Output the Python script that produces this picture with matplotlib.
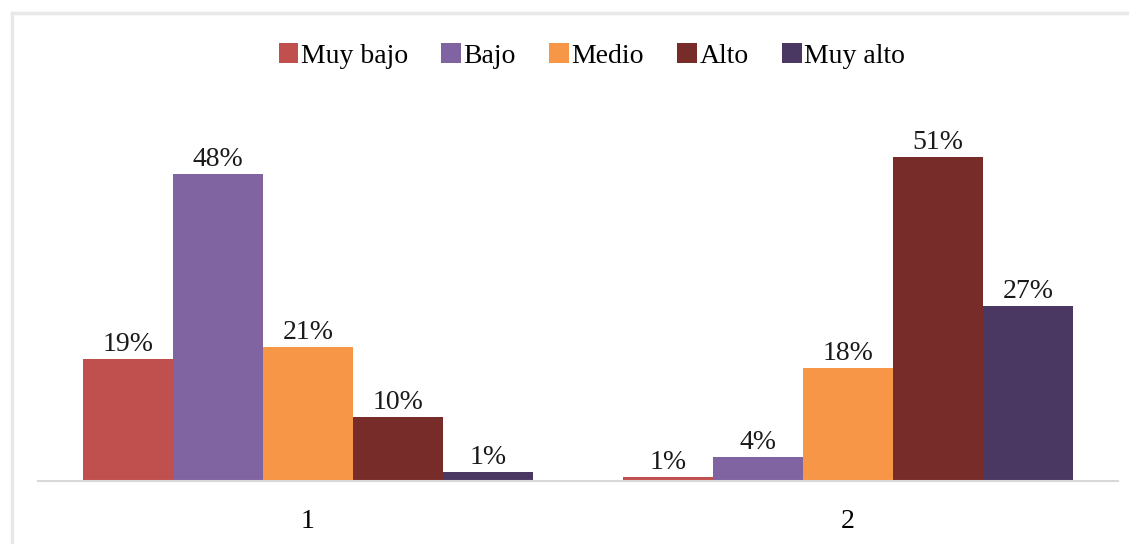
import numpy as np
import matplotlib.pyplot as plt
from matplotlib.lines import Line2D

grupos = ['1', '2']
series = ['Muy bajo', 'Bajo', 'Medio', 'Alto', 'Muy alto']
valores = {
    'Muy bajo': [19, 0.6],
    'Bajo': [48, 3.7],
    'Medio': [21, 17.6],
    'Alto': [10, 50.7],
    'Muy alto': [1.4, 27.3],
}
colores = ['#C0504D', '#8064A2', '#F79646', '#772C2A', '#4B3862']

plt.rcParams['font.family'] = ['Liberation Serif', 'DejaVu Serif']

W, H = 1129, 544
fig = plt.figure(figsize=(W / 100, H / 100), dpi=100)

# marco gris claro (solo visible arriba e izquierda)
borde = dict(transform=fig.transFigure, color='#E8E8E8', lw=2.5)
fig.lines.append(Line2D([12 / W, 12 / W], [0, 1 - 13 / H], **borde))
fig.lines.append(Line2D([12 / W, 1], [1 - 13 / H, 1 - 13 / H], **borde))

ax = fig.add_axes([38 / W, (H - 481) / H, (1118 - 38) / W, 384 / H])

x = np.arange(len(grupos))
ancho = 0.1667
for i, (s, c) in enumerate(zip(series, colores)):
    pos = x + (i - 2) * ancho
    barras = ax.bar(pos, valores[s], ancho, color=c, label=s)
    for b, v in zip(barras, valores[s]):
        ax.text(b.get_x() + b.get_width() / 2, v + 0.3, f'{v:.0f}%',
                ha='center', va='bottom', fontsize=20, color='#1a1a1a')

ax.set_xlim(-0.5, 1.5)
ax.set_ylim(0, 60)
ax.set_xticks(x)
ax.set_xticklabels(grupos, fontsize=20)
ax.tick_params(axis='x', length=0, pad=20)
ax.set_yticks([])
for lado in ['top', 'right', 'left']:
    ax.spines[lado].set_visible(False)
ax.spines['bottom'].set_color('#D9D9D9')
ax.spines['bottom'].set_linewidth(1.5)

fig.legend(loc='center', bbox_to_anchor=(592 / W, 1 - 56 / H), ncol=5,
           frameon=False, fontsize=20, handlelength=0.7, handleheight=0.7,
           handletextpad=0.1, columnspacing=1.2)

fig.savefig('out.png', dpi=100)
plt.close('all')
